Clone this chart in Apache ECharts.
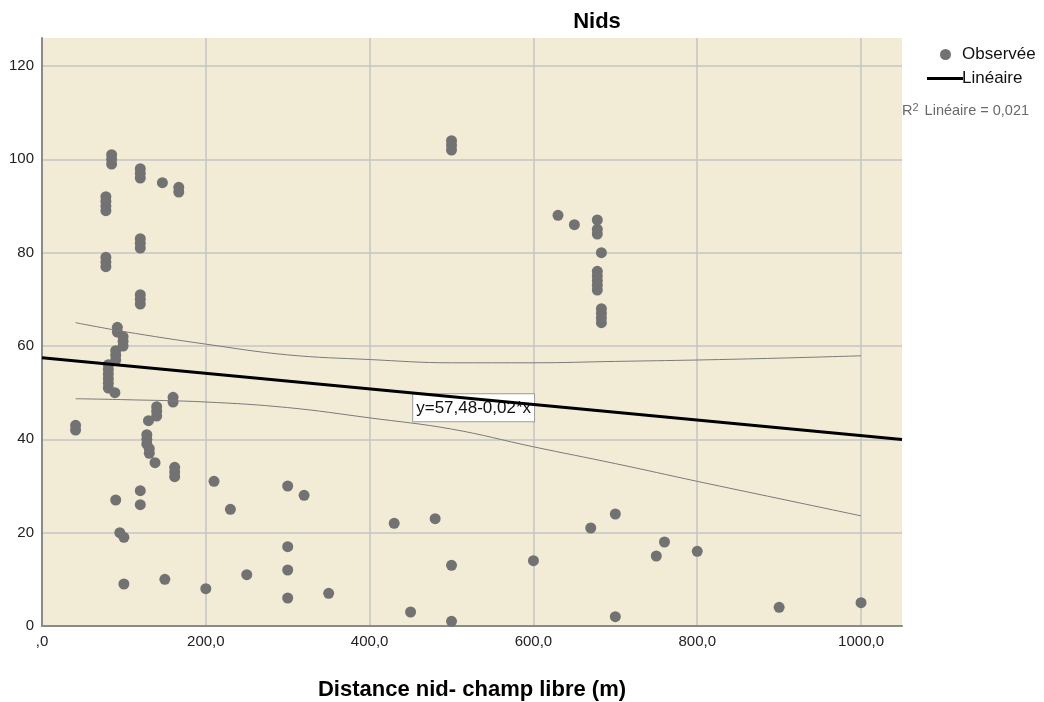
<!DOCTYPE html>
<html>
<head>
<meta charset="utf-8">
<title>Nids</title>
<script src="https://cdn.jsdelivr.net/npm/echarts@6/dist/echarts.min.js"></script>
<style>
  html, body { margin: 0; padding: 0; background: #ffffff; }
  #chart { width: 1044px; height: 702px; }
</style>
</head>
<body>
<div id="chart"></div>
<script>
// Distance nid - champ libre (m) for each observed nest
const distance = [
  85, 85, 85,
  120, 120, 120,
  147,
  167, 167,
  78, 78, 78, 78,
  120, 120, 120,
  78, 78, 78,
  120, 120, 120,
  92, 92,
  99, 99, 99,
  90, 90, 90,
  81, 81, 81, 81, 81, 81,
  89,
  160, 160,
  140, 140, 140,
  130,
  41, 41,
  128, 128, 128,
  131, 131,
  138,
  162, 162, 162,
  120, 90, 120, 95, 100, 100, 150, 200,
  210, 230, 250, 300, 320, 300, 300, 300, 350,
  430, 450, 480, 500, 500, 500, 500, 500,
  600, 630, 650,
  678, 678, 678,
  683,
  678, 678, 678, 678, 678,
  683, 683, 683, 683,
  670, 700, 700, 750, 760, 800, 900, 1000
];

// Observed value (Nids) for each nest, same order as distance
const nids = [
  99, 100, 101,
  96, 97, 98,
  95,
  93, 94,
  89, 90, 91, 92,
  81, 82, 83,
  77, 78, 79,
  69, 70, 71,
  63, 64,
  60, 61, 62,
  57, 58, 59,
  51, 52, 53, 54, 55, 56,
  50,
  48, 49,
  45, 46, 47,
  44,
  42, 43,
  39, 40, 41,
  37, 38,
  35,
  32, 33, 34,
  29, 27, 26, 20, 19, 9, 10, 8,
  31, 25, 11, 30, 28, 17, 12, 6, 7,
  22, 3, 23, 13, 1, 102, 103, 104,
  14, 88, 86,
  84, 85, 87,
  80,
  72, 73, 74, 75, 76,
  65, 66, 67, 68,
  21, 24, 2, 15, 18, 16, 4, 5
];

// Linear fit
const intercept = 57.48;
const slope = -0.0167;
const rSquared = 0.021;

// 95% confidence band of the mean fit
const bandX     = [41,   100,  200,  300,  400,  500,  600,  700,  800,  900,  1000];
const bandUpper = [65.0, 63.1, 60.4, 58.1, 57.1, 56.4, 56.4, 56.7, 57.0, 57.4, 57.9];
const bandLower = [48.7, 48.5, 48.0, 46.8, 44.6, 42.2, 38.4, 34.8, 31.0, 27.3, 23.6];

// Axis ranges and ticks
const xMin = 0, xMax = 1050, xStep = 200;
const yMin = 0, yMax = 126, yStep = 20;

const fr = (v, d) => v.toFixed(d).replace('.', ',');

const points = distance.map((d, i) => [d, nids[i]]);
const fitLine = [[xMin, intercept + slope * xMin], [xMax, intercept + slope * xMax]];
const upperLine = bandX.map((x, i) => [x, bandUpper[i]]);
const lowerLine = bandX.map((x, i) => [x, bandLower[i]]);

const eqText = 'y=' + fr(intercept, 2) + (slope < 0 ? '-' : '+') + fr(Math.abs(slope), 2) + '*x';
const eqX = 527;

const FONT = '"Liberation Sans", Arial, sans-serif';

const chart = echarts.init(document.getElementById('chart'), null, { renderer: 'canvas' });

chart.setOption({
  animation: false,
  backgroundColor: '#ffffff',
  textStyle: { fontFamily: FONT },
  title: {
    text: 'Nids',
    left: 592,
    top: 6,
    textAlign: 'center',
    textStyle: { fontFamily: FONT, fontSize: 22, fontWeight: 'bold', color: '#000' }
  },
  legend: [
    {
      data: [{ name: 'Observée', icon: 'circle' }],
      orient: 'vertical',
      left: 935,
      top: 41,
      itemWidth: 11,
      itemHeight: 11,
      itemGap: 4,
      selectedMode: false,
      textStyle: { fontFamily: FONT, fontSize: 17, color: '#111', padding: [0, 0, 0, 6] }
    },
    {
      data: [{ name: 'Linéaire', icon: 'rect' }],
      orient: 'vertical',
      left: 922,
      top: 65,
      itemWidth: 36,
      itemHeight: 3,
      itemGap: 4,
      selectedMode: false,
      textStyle: { fontFamily: FONT, fontSize: 17, color: '#111', padding: [0, 0, 0, -6] }
    }
  ],
  graphic: [
    {
      type: 'text',
      left: 902,
      top: 102,
      style: {
        text: 'R{sup|2} Linéaire = ' + fr(rSquared, 3),
        fontFamily: FONT,
        fontSize: 14.5,
        fill: '#6a6a6a',
        rich: {
          sup: { fontSize: 11, fill: '#6a6a6a', verticalAlign: 'top', padding: [0, 2, 6, 0], fontFamily: FONT }
        }
      }
    }
  ],
  grid: {
    left: 42,
    right: 142,
    top: 38,
    bottom: 76,
    outerBoundsMode: 'none',
    containLabel: false,
    show: true,
    backgroundColor: '#f2ecd7',
    borderWidth: 0
  },
  xAxis: {
    type: 'value',
    min: xMin,
    max: xMax,
    interval: xStep,
    name: 'Distance nid- champ libre (m)',
    nameLocation: 'middle',
    nameGap: 53,
    nameTextStyle: { fontFamily: FONT, fontSize: 22, fontWeight: 'bold', color: '#000' },
    axisLine: { show: true, onZero: false, lineStyle: { color: '#8a8a8a', width: 2 } },
    axisTick: { show: false },
    axisLabel: {
      showMaxLabel: false,
      margin: 8,
      fontFamily: FONT,
      fontSize: 15,
      color: '#222',
      formatter: v => (v === 0 ? ',0' : fr(v, 1))
    },
    splitLine: { show: true, showMinLine: false, showMaxLine: false, lineStyle: { color: '#c4c4c4', width: 1.5 } }
  },
  yAxis: {
    type: 'value',
    min: yMin,
    max: yMax,
    interval: yStep,
    axisLine: { show: true, onZero: false, lineStyle: { color: '#8a8a8a', width: 2 } },
    axisTick: { show: false },
    axisLabel: {
      showMaxLabel: false,
      margin: 8,
      fontFamily: FONT,
      fontSize: 15,
      color: '#222'
    },
    splitLine: { show: true, showMinLine: false, showMaxLine: false, lineStyle: { color: '#c4c4c4', width: 1.5 } }
  },
  series: [
    {
      name: 'Observée',
      type: 'scatter',
      data: points,
      symbol: 'circle',
      symbolSize: 11,
      itemStyle: { color: '#727272', opacity: 1 },
      z: 3
    },
    {
      name: 'upper',
      type: 'line',
      data: upperLine,
      smooth: 0.4,
      showSymbol: false,
      lineStyle: { color: '#7a7a7a', width: 1 },
      z: 4
    },
    {
      name: 'lower',
      type: 'line',
      data: lowerLine,
      smooth: 0.4,
      showSymbol: false,
      lineStyle: { color: '#7a7a7a', width: 1 },
      z: 4
    },
    {
      name: 'Linéaire',
      type: 'line',
      data: fitLine,
      showSymbol: false,
      itemStyle: { color: '#000' },
      lineStyle: { color: '#000', width: 3 },
      z: 5,
      markPoint: {
        symbol: 'rect',
        symbolSize: 0,
        silent: true,
        data: [{ coord: [eqX, intercept + slope * eqX] }],
        label: {
          show: true,
          position: 'inside',
          offset: [0, 9],
          formatter: eqText,
          fontFamily: FONT,
          fontSize: 17,
          color: '#111',
          backgroundColor: '#ffffff',
          borderColor: '#9a9a9a',
          borderWidth: 1,
          padding: [5, 3, 5, 3]
        }
      }
    }
  ]
});
</script>
</body>
</html>
